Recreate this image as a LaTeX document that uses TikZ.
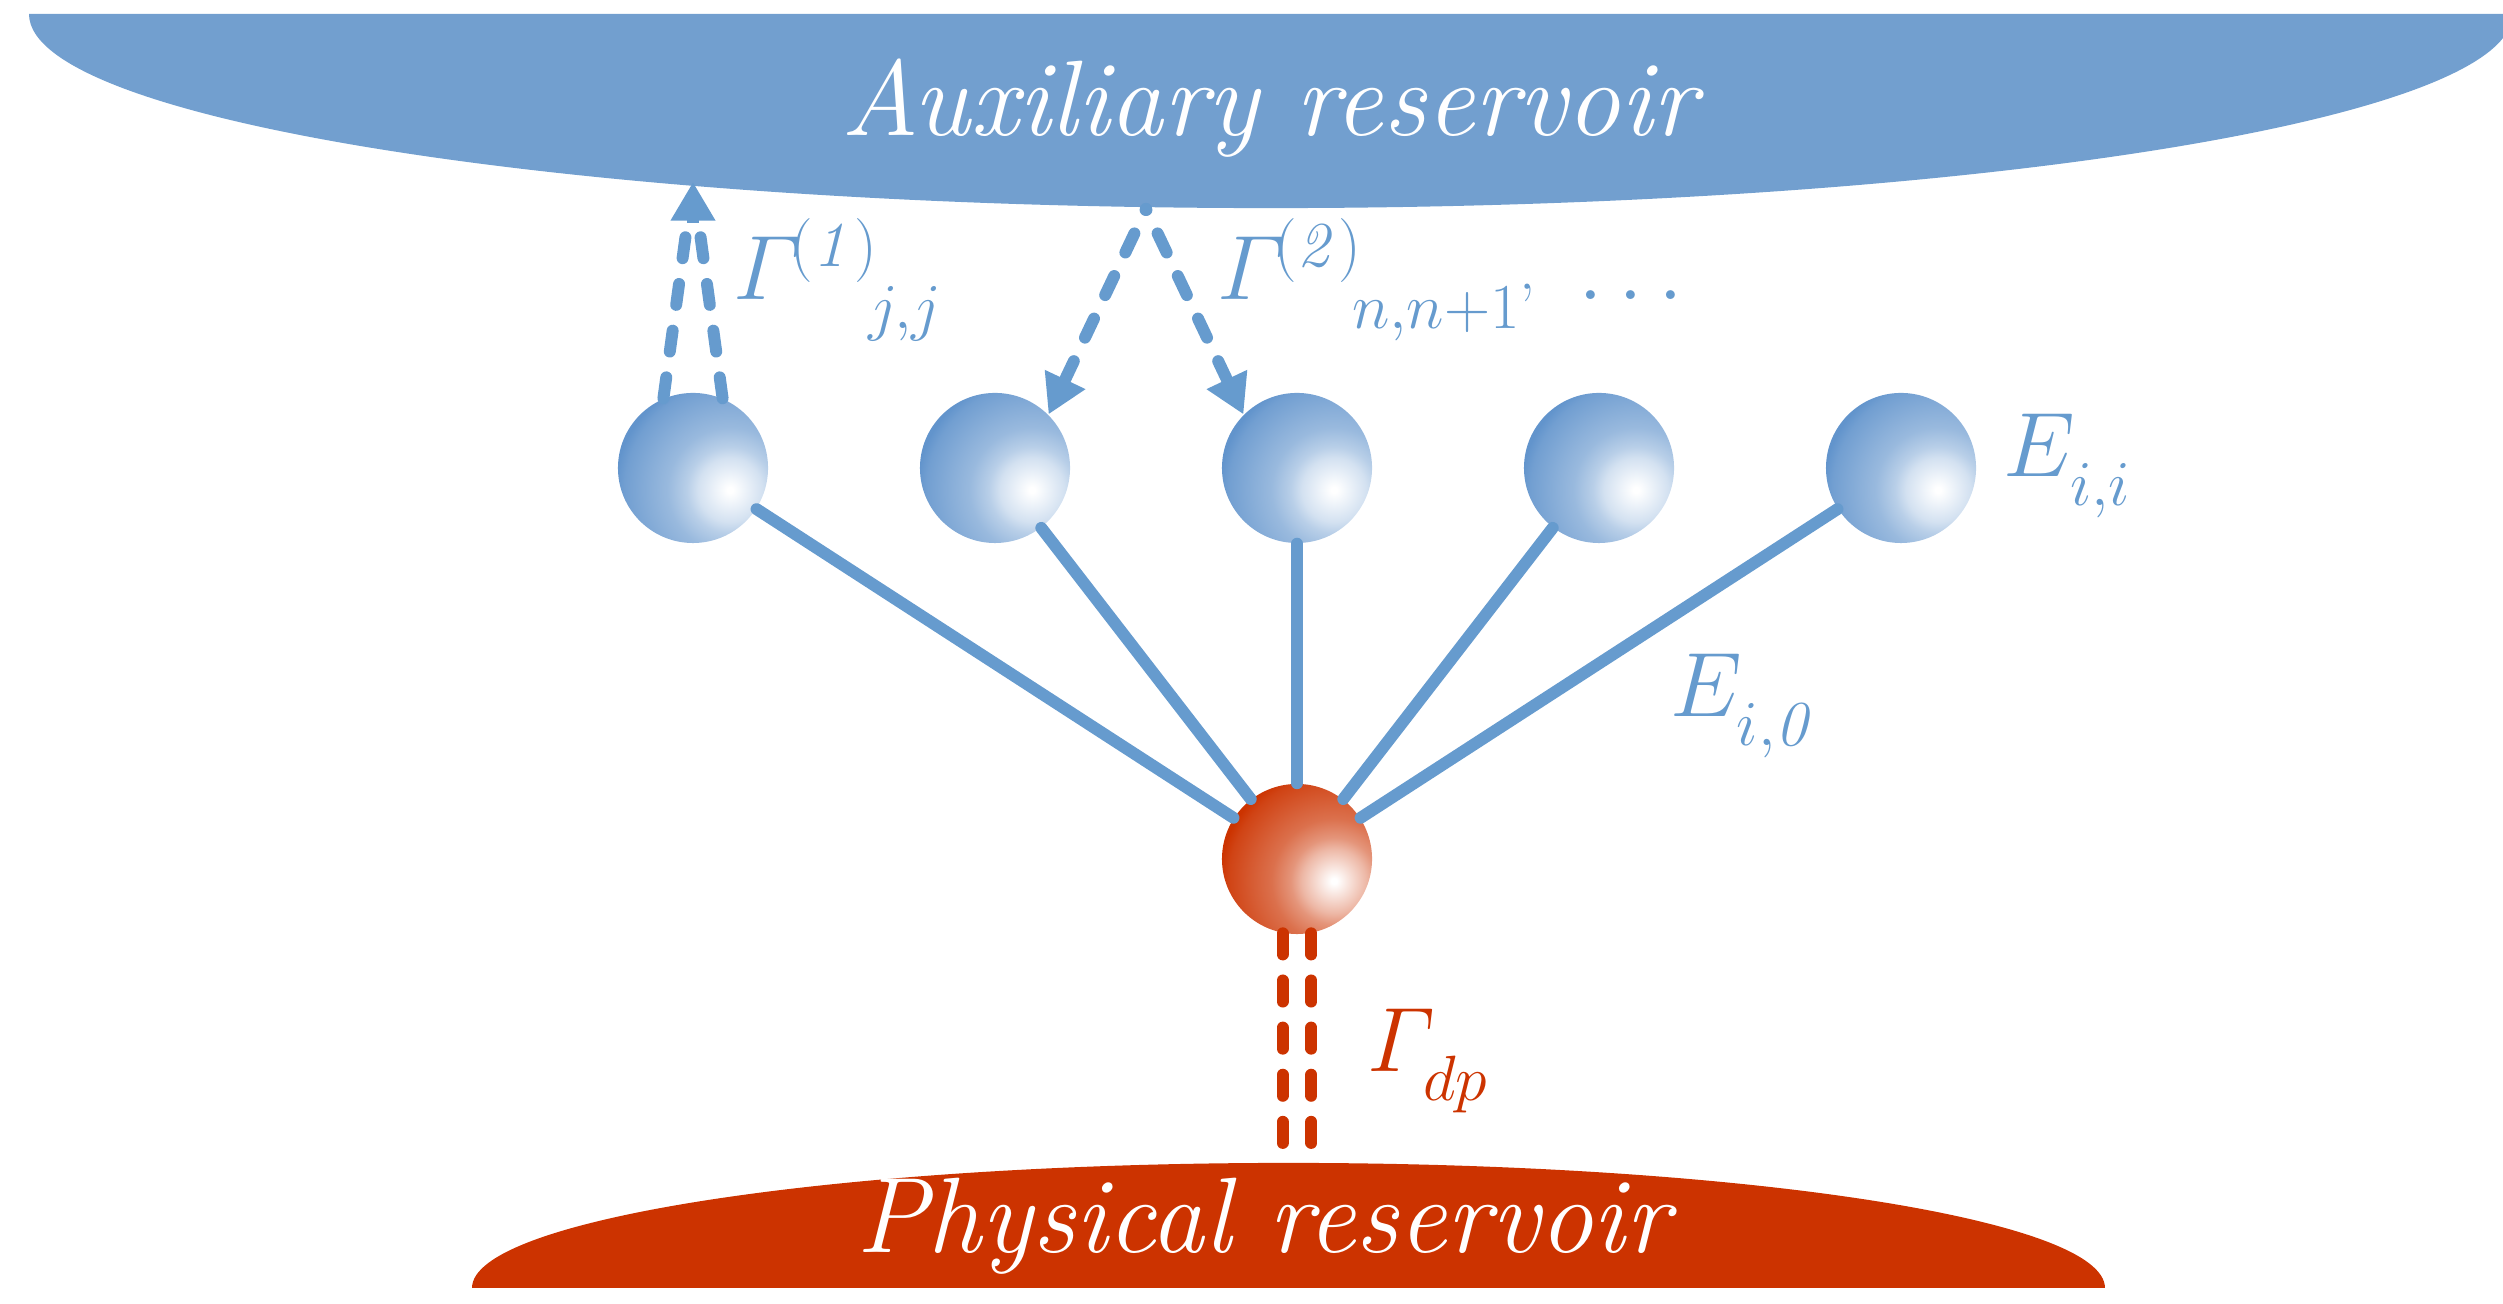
\RequirePackage{fix-cm}
\documentclass[tikz,border=0pt]{standalone}
\usepackage{amsmath}
\usepackage{xcolor}
\usepackage{tikz}
\usetikzlibrary{arrows.meta,calc}
\definecolor{resblue}{RGB}{114,159,207}
\definecolor{lineblue}{RGB}{102,155,206}
\definecolor{ballblue}{RGB}{98,148,204}
\definecolor{resred}{RGB}{204,51,0}
\pgfdeclareradialshading{bluesphere}{\pgfpointorigin}{color(0bp)=(white); color(0.6bp)=(white); color(6.7bp)=(ballblue!28!white); color(9bp)=(ballblue!45!white); color(13bp)=(ballblue!65!white); color(22bp)=(ballblue!90!white); color(24bp)=(ballblue); color(50bp)=(ballblue)}
\pgfdeclareradialshading{redsphere}{\pgfpointorigin}{color(0bp)=(white); color(0.6bp)=(white); color(6.7bp)=(resred!35!white); color(9bp)=(resred!52!white); color(13bp)=(resred!70!white); color(22bp)=(resred!92!white); color(24bp)=(resred); color(50bp)=(resred)}
\newcommand{\lowsub}[1]{_{\raisebox{-0.16em}{$\scriptstyle #1$}}}

\begin{document}
\begin{tikzpicture}[x=0.01cm, y=0.01cm,
    sphere/.style={circle, minimum size=1.5cm, inner sep=0pt,
      path picture={\shade[shading=#1] ($(path picture bounding box.center)+(0.37cm,-0.22cm)$) circle (1.2cm);}},
    spoke/.style={lineblue, line width=3.4pt, line cap=round},
    dashlink/.style={line width=3.4pt, line cap=round, dash pattern=on 6pt off 7.4pt},
    arrowhead/.style={-{Triangle[length=11pt, width=12pt]}},
    mathlbl/.style={inner sep=0pt, anchor=base west, font=\fontsize{26}{31}\selectfont},
    restext/.style={inner sep=0pt, anchor=base, text=white, font=\fontsize{30.5}{36}\selectfont\itshape}
]
\useasboundingbox (0,0) rectangle (2503,1304);

% reservoirs
\fill[resblue] (29,1290) arc[start angle=180, end angle=360, x radius=12.41cm, y radius=1.94cm] -- cycle;
\fill[resred] (472,16) arc[start angle=180, end angle=0, x radius=8.16cm, y radius=1.25cm] -- cycle;
\node[restext] (aux) at (1269,1168) {Auxiliary reservoir};
\node[restext] (phys) at (1263,51) {Physical reservoir};

% sites
\foreach \i/\x in {1/693,2/995,3/1297,4/1599,5/1901}
  \node[sphere=bluesphere] (b\i) at (\x,836) {};
\node[sphere=redsphere] (site) at (1297,445) {};

\foreach \i in {1,...,5}
  \draw[spoke] (b\i) -- (site);

% coupling to the reservoirs
\coordinate (g1tip) at (693,1122);
\coordinate (g1base) at (693,1081);
\coordinate (g2src) at (1146,1095);
\coordinate (phystop) at (1297,141);

\draw[dashlink, lineblue, shorten >=13.7pt] (b1.113) -- (g1tip);
\draw[dashlink, lineblue, shorten >=13.7pt] (b1.67) -- (g1tip);
\draw[lineblue, line width=3.4pt, arrowhead] (g1base) -- (g1tip);

\draw[dashlink, lineblue, arrowhead, dash phase=5.7pt] (g2src) -- (b2.45);
\draw[dashlink, lineblue, arrowhead, dash phase=5.7pt] (g2src) -- (b3.135);

\draw[dashlink, resred] (site.259) -- (site.259 |- phystop);
\draw[dashlink, resred] (site.281) -- (site.281 |- phystop);

% labels
\node[mathlbl, lineblue] (g1lbl) at (733,1004) {$\varGamma^{\!\mathit{(1)}\!}{}\lowsub{j,j}$};
\node[mathlbl, lineblue] (g2lbl) at (1217,1004) {$\varGamma^{\!\mathit{(2)}\!}{}\lowsub{n,n+1\text{’}}\;\ldots$};
\node[mathlbl, lineblue] (eii) at (2003,827) {$E\lowsub{i,i}$};
\node[mathlbl, lineblue] (ei0) at (1670,587) {$E\lowsub{i,\mathit{0}}$};
\node[mathlbl, resred] (gdp) at (1367,232) {$\varGamma\lowsub{dp}$};

\end{tikzpicture}
\end{document}
